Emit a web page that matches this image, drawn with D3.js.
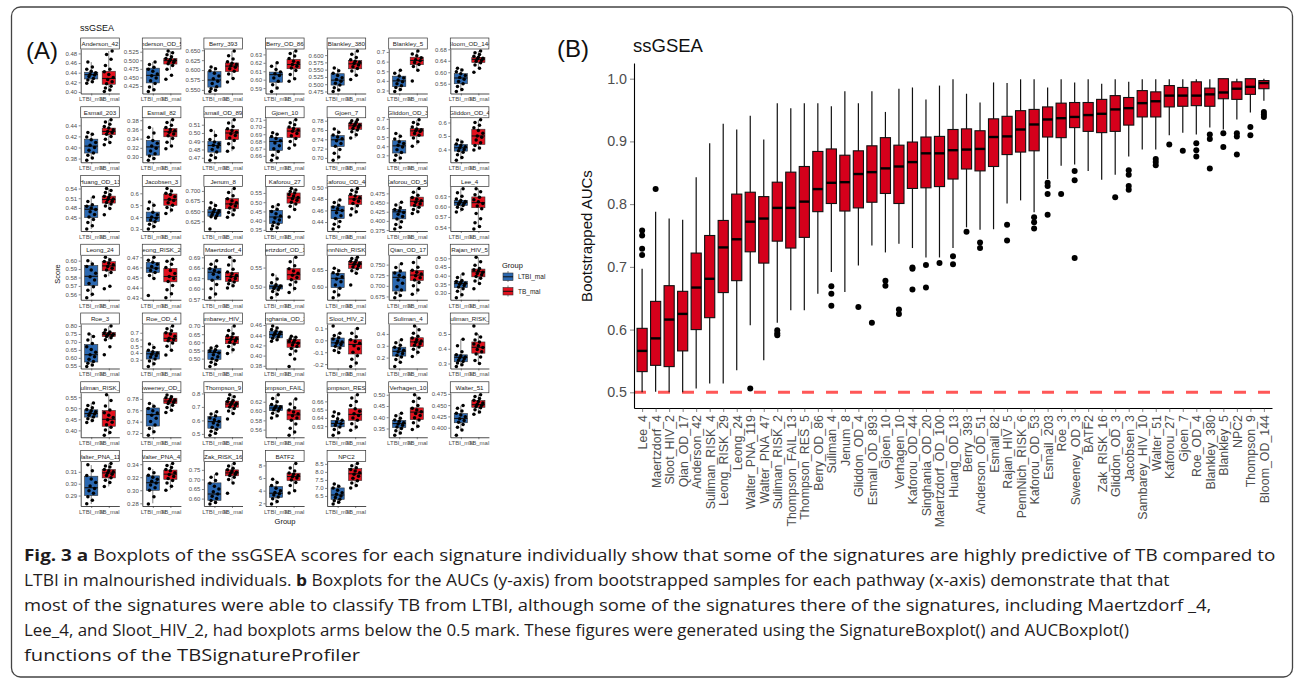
<!DOCTYPE html>
<html>
<head>
<meta charset="utf-8">
<script src="https://cdn.jsdelivr.net/npm/d3@7"></script>
<style>
  body { margin: 0; background: #fff; }
  svg { display: block; font-family: "Liberation Sans", Arial, sans-serif; }
</style>
</head>
<body>
<script>
'use strict';

// ---------- panel A : one facet per signature ----------
var groups = ["LTBI_mal", "TB_mal"];

var sigNames = ["Anderson_42","Anderson_OD_51","Berry_393","Berry_OD_86","Blankley_380","Blankley_5","Bloom_OD_144",
  "Esmail_203","Esmail_82","Esmail_OD_893","Gjoen_10","Gjoen_7","Gliddon_OD_3","Gliddon_OD_4",
  "Huang_OD_13","Jacobsen_3","Jenum_8","Kaforou_27","Kaforou_OD_44","Kaforou_OD_53","Lee_4",
  "Leong_24","Leong_RISK_29","Maertzdorf_4","Maertzdorf_OD_100","PennNich_RISK_6","Qian_OD_17","Rajan_HIV_5",
  "Roe_3","Roe_OD_4","Sambarey_HIV_10","Singhania_OD_20","Sloot_HIV_2","Suliman_4","Suliman_RISK_2",
  "Suliman_RISK_4","Sweeney_OD_3","Thompson_9","Thompson_FAIL_13","Thompson_RES_5","Verhagen_10","Walter_51",
  "Walter_PNA_119","Walter_PNA_47","Zak_RISK_16","BATF2","NPC2"];

var yTickLabels = [
  ["0.40","0.42","0.44","0.46","0.48"], ["0.425","0.450","0.475","0.500","0.525"], ["0.550","0.575","0.600","0.625","0.650"],
  ["0.59","0.60","0.61","0.62","0.63"], ["0.475","0.500","0.525","0.550","0.575","0.600"], ["0.3","0.4","0.5","0.6","0.7"],
  ["0.56","0.60","0.64","0.68"],
  ["0.38","0.40","0.42","0.44"], ["0.30","0.32","0.34","0.36","0.38"], ["0.47","0.48","0.49","0.50","0.51"],
  ["0.66","0.67","0.68","0.69","0.70","0.71"], ["0.70","0.72","0.74","0.76","0.78"], ["0.3","0.4","0.5","0.6","0.7"],
  ["0.4","0.5","0.6"],
  ["0.45","0.48","0.51","0.54"], ["0.3","0.4","0.5","0.6"], ["0.625","0.650","0.675","0.700"],
  ["0.35","0.40","0.45","0.50","0.55"], ["0.44","0.46","0.48","0.50"], ["0.375","0.400","0.425","0.450","0.475"],
  ["0.54","0.57","0.60","0.63"],
  ["0.56","0.57","0.58","0.59","0.60"], ["0.43","0.44","0.45","0.46","0.47"], ["0.57","0.60","0.63","0.66","0.69"],
  ["0.50","0.55"], ["0.60","0.65"], ["0.675","0.700","0.725","0.750"], ["0.30","0.35","0.40","0.45","0.50"],
  ["0.55","0.60","0.65","0.70","0.75","0.80"], ["0.3","0.4","0.5","0.6","0.7"], ["0.50","0.55","0.60","0.65","0.70"],
  ["0.38","0.40","0.42","0.44","0.46"], ["-0.2","-0.1","0.0","0.1"], ["0.2","0.3","0.4"], ["0.3","0.4","0.5"],
  ["0.40","0.45","0.50","0.55"], ["0.72","0.74","0.76","0.78"], ["0.5","0.6","0.7","0.8"], ["0.56","0.58","0.60","0.62"],
  ["0.63","0.64","0.65","0.66"], ["0.35","0.40","0.45","0.50"], ["0.400","0.425","0.450","0.475"],
  ["0.29","0.30","0.31"], ["0.28","0.30","0.32","0.34"], ["0.60","0.65","0.70","0.75"], ["2","4","6","8"],
  ["6.5","7.0","7.5","8.0","8.5"]
];

// [whisker low, q1, median, q3, whisker high]
var ltbiBox = [
  [0.419,0.427,0.436,0.441,0.462], [0.409,0.434,0.456,0.477,0.495], [0.546,0.557,0.575,0.596,0.608],
  [0.588,0.597,0.606,0.609,0.620], [0.475,0.497,0.514,0.536,0.556], [0.29,0.341,0.40,0.449,0.51],
  [0.533,0.560,0.580,0.595,0.614],
  [0.380,0.390,0.4025,0.415,0.427], [0.293,0.304,0.322,0.336,0.364], [0.468,0.4768,0.4848,0.490,0.503],
  [0.655,0.6676,0.680,0.6854,0.692], [0.695,0.7245,0.739,0.748,0.7615], [0.246,0.325,0.404,0.46,0.539],
  [0.325,0.3875,0.4125,0.4375,0.475],
  [0.415,0.45,0.476,0.4875,0.514], [0.30,0.363,0.395,0.442,0.526], [0.633,0.6375,0.6475,0.654,0.671],
  [0.355,0.385,0.42,0.456,0.486], [0.4357,0.446,0.46,0.4675,0.4785], [0.3794,0.4055,0.4247,0.4316,0.4508],
  [0.584,0.6035,0.6114,0.6182,0.6524],
  [0.5569,0.5705,0.5814,0.5942,0.60], [0.449,0.455,0.4593,0.465,0.47], [0.574,0.6252,0.6471,0.6586,0.6805],
  [0.4714,0.4938,0.50,0.5045,0.5313], [0.567,0.597,0.625,0.64,0.655], [0.6728,0.6878,0.72,0.7328,0.7523],
  [0.273,0.331,0.3545,0.368,0.409],
  [0.546,0.574,0.62,0.684,0.75], [0.20,0.31,0.388,0.422,0.534], [0.452,0.496,0.538,0.5534,0.576],
  [0.4282,0.4348,0.4414,0.448,0.4578], [-0.102,-0.054,-0.021,0.019,0.059], [0.16,0.213,0.253,0.288,0.352],
  [0.281,0.312,0.342,0.359,0.465],
  [0.436,0.46,0.476,0.493,0.524], [0.717,0.7322,0.7524,0.764,0.772], [0.493,0.542,0.591,0.628,0.665],
  [0.5854,0.601,0.6066,0.6116,0.635], [0.6193,0.6292,0.6332,0.6371,0.647], [0.3208,0.3544,0.3719,0.3864,0.4185],
  [0.395,0.4109,0.4204,0.4313,0.4488],
  [0.2829,0.29,0.2966,0.3063,0.3157], [0.28,0.30,0.3116,0.3221,0.3326], [0.5725,0.591,0.624,0.682,0.728],
  [1.89,2.95,3.59,4.65,5.71], [6.01,6.29,6.56,7.0,7.245]
];

var tbBox = [
  [0.402,0.416,0.428,0.443,0.485], [0.472,0.489,0.499,0.505,0.527], [0.579,0.596,0.610,0.618,0.648],
  [0.601,0.613,0.618,0.624,0.634], [0.531,0.553,0.570,0.581,0.614], [0.51,0.568,0.612,0.646,0.707],
  [0.614,0.634,0.645,0.652,0.674],
  [0.409,0.423,0.429,0.435,0.450], [0.322,0.344,0.355,0.362,0.381], [0.478,0.492,0.500,0.504,0.516],
  [0.6743,0.6854,0.6944,0.6988,0.710], [0.743,0.7615,0.769,0.775,0.7815], [0.414,0.511,0.568,0.593,0.689],
  [0.40,0.4375,0.50,0.55,0.6175],
  [0.478,0.495,0.506,0.5165,0.54], [0.436,0.499,0.545,0.594,0.64], [0.6375,0.656,0.668,0.681,0.706],
  [0.461,0.495,0.523,0.55,0.574], [0.454,0.4706,0.48,0.486,0.498], [0.4229,0.4403,0.4534,0.4647,0.4882],
  [0.54,0.5967,0.6114,0.628,0.6524],
  [0.5814,0.588,0.5938,0.5988,0.6039], [0.43,0.4457,0.451,0.459,0.4677], [0.6043,0.6205,0.6348,0.6462,0.69],
  [0.4875,0.5179,0.5313,0.5473,0.5768], [0.64,0.655,0.667,0.675,0.688], [0.6803,0.7125,0.7253,0.7365,0.7673],
  [0.3545,0.3934,0.4226,0.438,0.506],
  [0.714,0.734,0.746,0.76,0.80], [0.4366,0.568,0.617,0.70,0.80], [0.5324,0.5916,0.618,0.637,0.70],
  [0.4018,0.4163,0.4249,0.4315,0.438], [-0.22,-0.115,-0.035,0.005,0.10], [0.219,0.293,0.333,0.368,0.467],
  [0.30,0.37,0.41,0.446,0.50],
  [0.3786,0.4186,0.45,0.49,0.561], [0.7598,0.772,0.7763,0.7812,0.7873], [0.652,0.697,0.721,0.743,0.79],
  [0.548,0.5812,0.5918,0.6024,0.6257], [0.6253,0.6371,0.6442,0.651,0.668], [0.35,0.3894,0.4229,0.4418,0.50],
  [0.4306,0.4452,0.451,0.4605,0.4729],
  [0.2977,0.3049,0.3091,0.312,0.317], [0.301,0.3168,0.3247,0.331,0.3405], [0.6824,0.719,0.734,0.75,0.783],
  [4.0,5.6,6.24,6.77,8.26], [7.03,7.46,7.88,8.2,8.52]
];

var ltbiPts = [
  [0.418,0.421,0.425,0.428,0.432,0.435,0.437,0.440,0.443,0.447,0.452,0.462],
  [0.409,0.414,0.422,0.432,0.440,0.448,0.455,0.460,0.468,0.474,0.480,0.488,0.495],
  [0.546,0.549,0.553,0.558,0.566,0.572,0.578,0.585,0.592,0.598,0.603,0.608],
  [0.586,0.590,0.594,0.598,0.602,0.605,0.607,0.609,0.612,0.616,0.620],
  [0.475,0.480,0.488,0.497,0.503,0.510,0.516,0.522,0.530,0.538,0.546,0.556],
  [0.29,0.31,0.33,0.35,0.37,0.39,0.41,0.43,0.45,0.48,0.51],
  [0.533,0.540,0.550,0.560,0.568,0.576,0.582,0.589,0.595,0.602,0.608,0.614],
  [0.377,0.381,0.386,0.390,0.395,0.400,0.404,0.409,0.414,0.419,0.424,0.427],
  [0.293,0.297,0.302,0.307,0.313,0.319,0.324,0.330,0.336,0.343,0.352,0.364],
  [0.467,0.470,0.473,0.477,0.480,0.483,0.485,0.487,0.489,0.492,0.497,0.503],
  [0.654,0.657,0.661,0.666,0.670,0.674,0.678,0.681,0.684,0.687,0.690,0.692],
  [0.695,0.702,0.710,0.718,0.725,0.731,0.737,0.741,0.745,0.749,0.755,0.762],
  [0.246,0.27,0.30,0.33,0.36,0.39,0.41,0.43,0.45,0.48,0.51,0.54],
  [0.32,0.34,0.36,0.38,0.39,0.40,0.41,0.42,0.43,0.44,0.455,0.47],
  [0.415,0.425,0.435,0.444,0.452,0.460,0.468,0.475,0.480,0.485,0.490,0.500,0.514],
  [0.30,0.32,0.34,0.36,0.375,0.39,0.40,0.42,0.44,0.47,0.50,0.526],
  [0.606,0.633,0.636,0.639,0.642,0.645,0.648,0.651,0.654,0.658,0.664,0.671],
  [0.355,0.362,0.372,0.382,0.392,0.404,0.415,0.425,0.438,0.450,0.462,0.475,0.486],
  [0.428,0.432,0.436,0.441,0.446,0.451,0.456,0.460,0.463,0.466,0.469,0.474,0.478],
  [0.378,0.383,0.390,0.398,0.405,0.412,0.418,0.423,0.427,0.431,0.436,0.443,0.451],
  [0.584,0.592,0.598,0.603,0.607,0.610,0.612,0.615,0.618,0.622,0.630,0.640,0.652],
  [0.556,0.560,0.565,0.569,0.573,0.577,0.581,0.585,0.589,0.593,0.596,0.600],
  [0.4323,0.449,0.452,0.455,0.457,0.459,0.461,0.463,0.465,0.467,0.470],
  [0.574,0.585,0.600,0.612,0.624,0.633,0.641,0.647,0.652,0.657,0.662,0.670,0.680],
  [0.471,0.480,0.487,0.492,0.495,0.498,0.500,0.502,0.505,0.510,0.520,0.531],
  [0.567,0.575,0.585,0.595,0.605,0.615,0.623,0.630,0.637,0.642,0.648,0.655],
  [0.672,0.677,0.683,0.690,0.698,0.706,0.714,0.720,0.725,0.730,0.735,0.743,0.752],
  [0.273,0.290,0.310,0.325,0.335,0.343,0.350,0.356,0.361,0.366,0.372,0.390,0.409],
  [0.546,0.556,0.566,0.578,0.592,0.607,0.620,0.635,0.652,0.670,0.690,0.712,0.735,0.750],
  [0.20,0.24,0.28,0.31,0.34,0.36,0.38,0.40,0.42,0.44,0.48,0.534],
  [0.452,0.465,0.478,0.490,0.500,0.512,0.524,0.535,0.542,0.548,0.555,0.566,0.576],
  [0.428,0.431,0.434,0.437,0.440,0.442,0.444,0.446,0.448,0.451,0.454,0.458],
  [0.12,-0.102,-0.085,-0.065,-0.050,-0.035,-0.025,-0.015,-0.005,0.010,0.022,0.040,0.059],
  [0.125,0.16,0.185,0.205,0.220,0.235,0.250,0.262,0.275,0.288,0.305,0.325,0.352],
  [0.28,0.292,0.303,0.313,0.322,0.330,0.338,0.345,0.352,0.360,0.380,0.420,0.465],
  [0.436,0.445,0.453,0.461,0.468,0.474,0.479,0.484,0.489,0.494,0.502,0.512,0.524],
  [0.716,0.722,0.728,0.734,0.740,0.746,0.751,0.755,0.759,0.763,0.767,0.772],
  [0.49,0.505,0.520,0.535,0.550,0.565,0.580,0.592,0.605,0.618,0.632,0.648,0.665],
  [0.585,0.590,0.595,0.600,0.603,0.605,0.607,0.609,0.611,0.614,0.620,0.627,0.635],
  [0.619,0.622,0.626,0.629,0.631,0.633,0.635,0.637,0.639,0.642,0.645,0.647],
  [0.320,0.330,0.340,0.350,0.357,0.364,0.370,0.376,0.382,0.388,0.396,0.407,0.418],
  [0.3832,0.395,0.401,0.407,0.412,0.416,0.420,0.424,0.428,0.432,0.437,0.443,0.449],
  [0.283,0.286,0.289,0.292,0.294,0.296,0.298,0.301,0.304,0.307,0.311,0.316],
  [0.279,0.290,0.300,0.304,0.308,0.311,0.314,0.317,0.320,0.323,0.327,0.333],
  [0.572,0.580,0.590,0.600,0.612,0.624,0.636,0.650,0.665,0.680,0.695,0.712,0.728],
  [1.9,2.3,2.7,3.0,3.3,3.5,3.7,4.0,4.4,4.8,5.3,5.8],
  [6.0,6.1,6.2,6.3,6.4,6.5,6.6,6.7,6.85,7.0,7.1,7.25]
];

var tbPts = [
  [0.401,0.404,0.408,0.412,0.417,0.421,0.426,0.430,0.436,0.442,0.447,0.455,0.468,0.478,0.485],
  [0.445,0.456,0.474,0.485,0.490,0.494,0.497,0.500,0.502,0.505,0.510,0.516,0.522,0.527],
  [0.570,0.579,0.590,0.597,0.603,0.607,0.611,0.614,0.617,0.621,0.628,0.636,0.648],
  [0.598,0.601,0.606,0.611,0.614,0.616,0.618,0.620,0.622,0.625,0.628,0.631,0.634],
  [0.516,0.531,0.545,0.554,0.560,0.566,0.571,0.575,0.579,0.584,0.592,0.603,0.614],
  [0.40,0.51,0.55,0.57,0.59,0.61,0.62,0.64,0.66,0.68,0.71],
  [0.600,0.614,0.625,0.633,0.638,0.642,0.646,0.649,0.652,0.656,0.662,0.668,0.674],
  [0.405,0.409,0.415,0.420,0.424,0.427,0.429,0.432,0.435,0.438,0.442,0.446,0.450],
  [0.318,0.324,0.332,0.340,0.346,0.350,0.354,0.357,0.360,0.364,0.369,0.375,0.381],
  [0.478,0.482,0.487,0.491,0.494,0.497,0.499,0.501,0.503,0.505,0.508,0.512,0.516],
  [0.6707,0.675,0.680,0.684,0.688,0.691,0.694,0.696,0.698,0.700,0.703,0.706,0.710],
  [0.743,0.750,0.756,0.760,0.763,0.766,0.769,0.771,0.773,0.775,0.777,0.780,0.782],
  [0.40,0.45,0.49,0.52,0.54,0.56,0.57,0.58,0.59,0.61,0.64,0.66,0.69],
  [0.395,0.41,0.43,0.45,0.47,0.49,0.50,0.52,0.54,0.56,0.58,0.60,0.62],
  [0.459,0.478,0.486,0.492,0.497,0.501,0.505,0.508,0.512,0.516,0.521,0.528,0.534,0.540],
  [0.43,0.46,0.48,0.50,0.52,0.54,0.55,0.57,0.59,0.60,0.62,0.64],
  [0.635,0.641,0.647,0.653,0.658,0.663,0.667,0.671,0.676,0.681,0.688,0.696,0.706],
  [0.42,0.461,0.478,0.490,0.500,0.510,0.518,0.526,0.534,0.542,0.550,0.558,0.566,0.574],
  [0.452,0.458,0.463,0.468,0.472,0.476,0.479,0.482,0.485,0.488,0.492,0.495,0.498],
  [0.420,0.425,0.431,0.437,0.442,0.447,0.451,0.455,0.459,0.464,0.470,0.478,0.488],
  [0.535,0.542,0.553,0.565,0.580,0.594,0.602,0.609,0.614,0.620,0.627,0.634,0.643,0.652],
  [0.5666,0.5697,0.582,0.586,0.589,0.591,0.593,0.595,0.597,0.599,0.601,0.604],
  [0.430,0.434,0.438,0.442,0.446,0.449,0.451,0.454,0.457,0.460,0.463,0.466,0.468],
  [0.602,0.608,0.614,0.619,0.624,0.629,0.634,0.638,0.643,0.648,0.656,0.668,0.680,0.690],
  [0.485,0.495,0.505,0.512,0.518,0.524,0.530,0.535,0.541,0.547,0.555,0.565,0.577],
  [0.605,0.640,0.648,0.654,0.659,0.663,0.667,0.670,0.673,0.676,0.680,0.684,0.688],
  [0.680,0.690,0.700,0.708,0.714,0.719,0.724,0.728,0.732,0.737,0.744,0.755,0.767],
  [0.3253,0.355,0.370,0.385,0.395,0.405,0.413,0.420,0.427,0.434,0.442,0.460,0.480,0.506],
  [0.62,0.67,0.714,0.726,0.735,0.741,0.745,0.748,0.752,0.757,0.763,0.775,0.80],
  [0.37,0.44,0.50,0.55,0.58,0.60,0.62,0.65,0.68,0.70,0.73,0.76,0.80],
  [0.532,0.555,0.575,0.590,0.600,0.610,0.617,0.624,0.632,0.640,0.652,0.672,0.70],
  [0.3787,0.3932,0.402,0.409,0.414,0.418,0.421,0.424,0.426,0.428,0.430,0.433,0.436,0.438],
  [-0.22,-0.19,-0.16,-0.13,-0.10,-0.07,-0.045,-0.025,-0.010,0.005,0.030,0.060,0.10],
  [0.21,0.245,0.270,0.290,0.305,0.318,0.330,0.340,0.352,0.365,0.380,0.405,0.435,0.467],
  [0.554,0.30,0.32,0.345,0.365,0.380,0.395,0.408,0.420,0.432,0.445,0.460,0.480,0.50],
  [0.378,0.390,0.402,0.414,0.425,0.437,0.448,0.458,0.468,0.480,0.492,0.510,0.535,0.561],
  [0.756,0.760,0.765,0.769,0.772,0.774,0.776,0.778,0.780,0.782,0.784,0.787],
  [0.61,0.652,0.670,0.688,0.700,0.710,0.718,0.725,0.732,0.740,0.748,0.760,0.775,0.79],
  [0.548,0.555,0.563,0.572,0.580,0.585,0.590,0.594,0.598,0.602,0.607,0.615,0.626],
  [0.625,0.629,0.633,0.637,0.640,0.643,0.645,0.648,0.651,0.655,0.660,0.664,0.668],
  [0.345,0.360,0.375,0.388,0.398,0.408,0.417,0.425,0.432,0.440,0.452,0.470,0.485,0.50],
  [0.430,0.435,0.440,0.444,0.447,0.450,0.452,0.455,0.458,0.461,0.465,0.469,0.473],
  [0.2977,0.301,0.303,0.305,0.307,0.308,0.309,0.310,0.311,0.312,0.314,0.315,0.317],
  [0.300,0.306,0.311,0.315,0.318,0.321,0.324,0.327,0.330,0.332,0.335,0.338,0.341],
  [0.6275,0.682,0.700,0.712,0.720,0.727,0.733,0.738,0.744,0.750,0.758,0.770,0.783],
  [3.64,4.0,4.8,5.3,5.7,6.0,6.2,6.4,6.6,6.8,7.1,7.6,8.3],
  [7.0,7.15,7.3,7.45,7.6,7.72,7.85,7.95,8.05,8.15,8.25,8.38,8.52]
];

// ---------- panel B : bootstrapped AUCs ----------
var aucNames = ["Lee_4","Maertzdorf_4","Sloot_HIV_2","Qian_OD_17","Anderson_42","Suliman_RISK_4","Leong_RISK_29",
  "Leong_24","Walter_PNA_119","Walter_PNA_47","Suliman_RISK_2","Thompson_FAIL_13","Thompson_RES_5","Berry_OD_86",
  "Suliman_4","Jenum_8","Gliddon_OD_4","Esmail_OD_893","Gjoen_10","Verhagen_10","Kaforou_OD_44","Singhania_OD_20",
  "Maertzdorf_OD_100","Huang_OD_13","Berry_393","Anderson_OD_51","Esmail_82","Rajan_HIV_5","PennNich_RISK_6",
  "Kaforou_OD_53","Esmail_203","Roe_3","Sweeney_OD_3","BATF2","Zak_RISK_16","Gliddon_OD_3","Jacobsen_3",
  "Sambarey_HIV_10","Walter_51","Kaforou_27","Gjoen_7","Roe_OD_4","Blankley_380","Blankley_5","NPC2",
  "Thompson_9","Bloom_OD_144"];

var aucLow = [0.500,0.501,0.500,0.500,0.506,0.514,0.514,0.535,0.607,0.551,0.611,0.631,0.631,0.657,0.692,0.660,
  0.702,0.734,0.723,0.737,0.730,0.715,0.715,0.730,0.763,0.759,0.760,0.801,0.806,0.787,0.840,0.861,0.863,0.853,
  0.839,0.847,0.876,0.887,0.887,0.910,0.914,0.911,0.922,0.919,0.935,0.946,0.965];
var aucQ1 = [0.533,0.543,0.541,0.566,0.600,0.619,0.659,0.678,0.724,0.706,0.741,0.730,0.747,0.788,0.801,0.789,
  0.794,0.803,0.817,0.801,0.825,0.826,0.828,0.840,0.856,0.853,0.860,0.879,0.883,0.885,0.907,0.906,0.922,0.916,
  0.914,0.916,0.926,0.939,0.939,0.955,0.956,0.957,0.956,0.968,0.967,0.975,0.984];
var aucMedian = [0.566,0.586,0.616,0.625,0.667,0.681,0.731,0.744,0.772,0.777,0.794,0.794,0.804,0.824,0.834,0.835,
  0.848,0.851,0.857,0.860,0.867,0.881,0.881,0.886,0.887,0.888,0.907,0.908,0.919,0.927,0.935,0.937,0.939,0.942,
  0.944,0.951,0.953,0.961,0.964,0.973,0.973,0.973,0.975,0.978,0.984,0.987,0.993];
var aucQ3 = [0.602,0.645,0.670,0.661,0.722,0.750,0.774,0.816,0.819,0.812,0.835,0.851,0.860,0.884,0.888,0.878,
  0.885,0.893,0.906,0.894,0.899,0.907,0.908,0.919,0.920,0.917,0.936,0.940,0.949,0.951,0.955,0.961,0.962,0.962,
  0.967,0.973,0.970,0.981,0.979,0.989,0.986,0.995,0.985,1.000,0.995,1.000,0.997];
var aucHigh = [0.697,0.788,0.777,0.775,0.843,0.897,0.928,0.919,0.941,0.903,0.961,0.953,0.961,0.961,0.956,0.980,
  0.961,0.980,0.947,0.984,0.986,0.967,0.989,0.999,0.976,0.962,0.994,0.993,0.999,0.999,0.986,0.999,0.994,0.999,
  0.992,0.999,0.995,0.999,0.999,0.999,0.999,0.999,0.999,1.000,1.000,1.000,1.000];
var aucOutliers = [[0.758,0.750,0.729,0.719],[0.824],[],[],[],[],[],[],[0.506],[],[0.599,0.594,0.591],[],[],[],
  [0.669,0.657,0.638],[],[0.636],[0.611],[0.678,0.670],[0.632,0.625],[0.699,0.697,0.664],[0.703,0.667],[0.706],
  [0.717,0.704],[0.756],[0.739,0.730],[],[0.767,0.742],[],[0.779,0.771,0.761],[0.834,0.829,0.816,0.783],[0.816],
  [0.853,0.838,0.714],[],[],[0.811],[0.854,0.847,0.829,0.823],[],[0.872,0.867,0.862],[0.895],[0.885],
  [0.897,0.886,0.876],[0.911,0.904,0.857],[0.913,0.891],[0.913,0.908,0.879],[0.923,0.910],[0.947,0.943,0.939]];
var aucChance = 0.5;

var captionLines = [
  [["Fig. 3 a", true], [" Boxplots of the ssGSEA scores for each signature individually show that some of the signatures are highly predictive of TB compared to", false]],
  [["LTBI in malnourished individuals. ", false], ["b", true], [" Boxplots for the AUCs (y-axis) from bootstrapped samples for each pathway (x-axis) demonstrate that that", false]],
  [["most of the signatures were able to classify TB from LTBI, although some of the signatures there of the signatures, including Maertzdorf _4,", false]],
  [["Lee_4, and Sloot_HIV_2, had boxplots arms below the 0.5 mark. These figures were generated using the SignatureBoxplot() and AUCBoxplot()", false]],
  [["functions of the TBSignatureProfiler", false]]
];
var captionWidths = [1252, 1146, 1188, 1106, 336];

var fig = {};
fig.width = 1295;
fig.height = 679;
fig.blue = "#2b68b0";
fig.red = "#e2111e";
fig.aucRed = "#d5001b";

fig.styleAxis = function(g, size){
  g.attr("font-family", "'Liberation Sans', Arial, sans-serif").attr("font-size", size);
  g.selectAll(".domain").attr("stroke", "#000").attr("stroke-width", 0.7);
  g.selectAll(".tick line").attr("stroke", "#333").attr("stroke-width", 0.6);
  g.selectAll(".tick text").attr("fill", "#4d4d4d");
};

fig.drawFacets = function(svg){
  var colors = [fig.blue, fig.red];
  var root = svg.append("g").attr("class", "panel-a");
  var defs = svg.append("defs");

  sigNames.forEach(function(name, i){
    var col = i % 7, row = Math.floor(i / 7);
    var left = 80.7 + col * 61.6, w = 38.6;
    var stripTop = 38 + row * 68.75;
    var top = stripTop + 11, bottom = top + 44.5;

    var boxes = [ltbiBox[i], tbBox[i]];
    var pts = [ltbiPts[i], tbPts[i]];
    var ext = d3.extent(pts[0].concat(pts[1], boxes[0], boxes[1]));
    var pad = (ext[1] - ext[0]) * 0.05;
    var y = d3.scaleLinear().domain([ext[0] - pad, ext[1] + pad]).range([bottom, top]);
    var x = d3.scalePoint().domain(groups).range([left, left + w]).padding(0.6);
    var bw = x.step() * 0.75;
    var cell = root.append("g");

    boxes.forEach(function(b, k){
      var cx = x(groups[k]);
      cell.append("line").attr("x1", cx).attr("x2", cx).attr("y1", y(b[0])).attr("y2", y(b[4]))
        .attr("stroke", "#333").attr("stroke-width", 0.6);
      cell.append("rect").attr("x", cx - bw / 2).attr("y", y(b[3])).attr("width", bw)
        .attr("height", y(b[1]) - y(b[3])).attr("fill", colors[k]).attr("stroke", "#333").attr("stroke-width", 0.6);
      cell.append("line").attr("x1", cx - bw / 2).attr("x2", cx + bw / 2).attr("y1", y(b[2])).attr("y2", y(b[2]))
        .attr("stroke", "#111").attr("stroke-width", 1.1);
    });

    pts.forEach(function(list, k){
      var cx = x(groups[k]);
      cell.selectAll(null).data(list).enter().append("circle")
        .attr("cx", function(d, j){ return cx + ((j * 5) % 9 - 4) * bw * 0.085; })
        .attr("cy", function(d){ return y(d); })
        .attr("r", 1.75).attr("fill", "#000");
    });

    var ya = cell.append("g").attr("transform", "translate(" + left + ",0)")
      .call(d3.axisLeft(y).tickValues(yTickLabels[i].map(Number)).tickSize(2).tickSizeOuter(0).tickPadding(1.5)
        .tickFormat(function(d, j){ return yTickLabels[i][j]; }));
    fig.styleAxis(ya, 6);
    var xa = cell.append("g").attr("transform", "translate(0," + bottom + ")")
      .call(d3.axisBottom(x).tickSize(2).tickSizeOuter(0).tickPadding(1.5));
    fig.styleAxis(xa, 6);

    defs.append("clipPath").attr("id", "strip" + i).append("rect")
      .attr("x", left).attr("y", stripTop).attr("width", w).attr("height", 11);
    cell.append("rect").attr("x", left).attr("y", stripTop).attr("width", w).attr("height", 11)
      .attr("fill", "#fff").attr("stroke", "#333").attr("stroke-width", 0.7);
    cell.append("text").attr("clip-path", "url(#strip" + i + ")")
      .attr("x", left + w / 2).attr("y", stripTop + 8).attr("text-anchor", "middle")
      .attr("font-size", 6.2).attr("fill", "#1a1a1a").text(name);
  });

  root.append("text").attr("x", 80).attr("y", 31).attr("font-size", 9).attr("fill", "#111").text("ssGSEA");
  root.append("text").attr("transform", "translate(60,274) rotate(-90)").attr("text-anchor", "middle")
    .attr("font-size", 7.5).attr("fill", "#111").text("Score");
  root.append("text").attr("x", 285).attr("y", 524).attr("text-anchor", "middle")
    .attr("font-size", 7.5).attr("fill", "#111").text("Group");

  // legend
  var lg = root.append("g");
  lg.append("text").attr("x", 502).attr("y", 268).attr("font-size", 7.5).attr("fill", "#111").text("Group");
  groups.forEach(function(gname, k){
    var ky = 272 + k * 14.5;
    lg.append("line").attr("x1", 508).attr("x2", 508).attr("y1", ky - 1).attr("y2", ky + 10)
      .attr("stroke", "#333").attr("stroke-width", 0.6);
    lg.append("rect").attr("x", 503).attr("y", ky + 1).attr("width", 10).attr("height", 7.5)
      .attr("fill", colors[k]).attr("stroke", "#333").attr("stroke-width", 0.6);
    lg.append("line").attr("x1", 503).attr("x2", 513).attr("y1", ky + 4.8).attr("y2", ky + 4.8)
      .attr("stroke", "#111").attr("stroke-width", 1);
    lg.append("text").attr("x", 518).attr("y", ky + 7).attr("font-size", 6.5).attr("fill", "#222").text(gname);
  });
};

fig.drawAuc = function(svg){
  var left = 634, right = 1272, top = 63, bottom = 408;
  var g = svg.append("g").attr("class", "panel-b");
  var allVals = aucLow.concat(aucHigh, [aucChance]);
  var ext = d3.extent(allVals), pad = (ext[1] - ext[0]) * 0.05;
  var y = d3.scaleLinear().domain([ext[0] - pad, ext[1] + pad]).range([bottom, top]);
  var x = d3.scalePoint().domain(aucNames).range([left, right]).padding(0.6);
  var bw = x.step() * 0.75;

  g.append("line").attr("x1", left).attr("x2", right).attr("y1", y(aucChance)).attr("y2", y(aucChance))
    .attr("stroke", "#ff5757").attr("stroke-width", 3).attr("stroke-dasharray", "12,12");

  aucNames.forEach(function(name, i){
    var cx = x(name);
    g.append("line").attr("x1", cx).attr("x2", cx).attr("y1", y(aucLow[i])).attr("y2", y(aucHigh[i]))
      .attr("stroke", "#111").attr("stroke-width", 1.2);
    g.append("rect").attr("x", cx - bw / 2).attr("y", y(aucQ3[i])).attr("width", bw)
      .attr("height", Math.max(1, y(aucQ1[i]) - y(aucQ3[i]))).attr("fill", fig.aucRed)
      .attr("stroke", "#111").attr("stroke-width", 1.1);
    g.append("line").attr("x1", cx - bw / 2).attr("x2", cx + bw / 2)
      .attr("y1", y(aucMedian[i])).attr("y2", y(aucMedian[i])).attr("stroke", "#000").attr("stroke-width", 2.4);
    g.selectAll(null).data(aucOutliers[i]).enter().append("circle")
      .attr("cx", cx).attr("cy", function(d){ return y(d); }).attr("r", 3).attr("fill", "#000");
  });

  var ya = g.append("g").attr("transform", "translate(" + left + ",0)")
    .call(d3.axisLeft(y).tickValues([0.5, 0.6, 0.7, 0.8, 0.9, 1.0]).tickFormat(d3.format(".1f"))
      .tickSize(4).tickSizeOuter(0).tickPadding(3));
  fig.styleAxis(ya, 14.3);
  ya.select(".domain").attr("stroke-width", 1.1);
  var xa = g.append("g").attr("transform", "translate(0," + bottom + ")")
    .call(d3.axisBottom(x).tickSize(4).tickSizeOuter(0));
  fig.styleAxis(xa, 12.4);
  xa.select(".domain").attr("stroke-width", 1.1);
  xa.selectAll(".tick text").attr("transform", "translate(4.5,7) rotate(-90)")
    .attr("text-anchor", "end").attr("x", 0).attr("y", 0).attr("dy", 0);

  g.append("text").attr("transform", "translate(592,236) rotate(-90)").attr("text-anchor", "middle")
    .attr("font-size", 15).attr("fill", "#111").text("Bootstrapped AUCs");
  g.append("text").attr("x", 633).attr("y", 52).attr("font-size", 18.5).attr("fill", "#111").text("ssGSEA");
};

fig.drawCaption = function(svg){
  var g = svg.append("g").attr("font-family", "'Open Sans', sans-serif").attr("font-size", 15.8).attr("fill", "#1f1c1d");
  captionLines.forEach(function(parts, i){
    var baseX = 24, baseY = 561 + i * 25;
    var t = g.append("text").attr("x", 0).attr("y", 0);
    var spans = parts.map(function(p){
      return t.append("tspan").attr("font-weight", p[1] ? "bold" : "normal").text(p[0]);
    });
    // stretch each line horizontally to the width it has in the figure
    var natural = spans.reduce(function(a, s){ return a + s.node().getComputedTextLength(); }, 0);
    var sx = natural > 0 ? captionWidths[i] / natural : 1;
    t.attr("transform", "translate(" + baseX + "," + baseY + ") scale(" + sx.toFixed(4) + ",1)");
  });
};

fig.run = function(){
  var svg = d3.select("body").append("svg").attr("width", fig.width).attr("height", fig.height);
  svg.append("rect").attr("x", 11.5).attr("y", 7).attr("width", 1281).attr("height", 670).attr("rx", 9)
    .attr("fill", "#fff").attr("stroke", "#444").attr("stroke-width", 1.3);
  svg.append("text").attr("x", 26).attr("y", 59).attr("font-size", 24).attr("fill", "#111").text("(A)");
  svg.append("text").attr("x", 557).attr("y", 57).attr("font-size", 24).attr("fill", "#111").text("(B)");
  fig.drawFacets(svg);
  fig.drawAuc(svg);
  fig.drawCaption(svg);
};

window.onload = fig.run;
</script>
</body>
</html>
